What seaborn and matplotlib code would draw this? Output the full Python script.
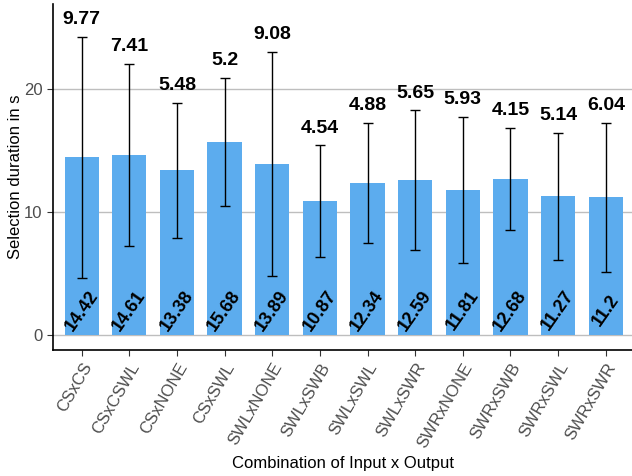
import numpy as np
import pandas as pd
import seaborn as sns
import matplotlib.pyplot as plt

combos = ["CSxCS", "CSxCSWL", "CSxNONE", "CSxSWL", "SWLxNONE", "SWLxSWB",
          "SWLxSWL", "SWLxSWR", "SWRxNONE", "SWRxSWB", "SWRxSWL", "SWRxSWR"]
means = [14.42, 14.61, 13.38, 15.68, 13.89, 10.87, 12.34, 12.59, 11.81, 12.68, 11.27, 11.2]
sds = [9.77, 7.41, 5.48, 5.2, 9.08, 4.54, 4.88, 5.65, 5.93, 4.15, 5.14, 6.04]

df = pd.DataFrame({"combo": combos, "mean": means, "sd": sds})

sns.set_style("white")
plt.rcParams['font.family'] = ['Liberation Sans', 'DejaVu Sans']

fig = plt.figure(figsize=(6.32, 4.76), dpi=100)
ax = fig.add_axes([0.084, 0.265, 0.916, 0.727])

sns.barplot(data=df, x="combo", y="mean", color="#5CACEE", saturation=1,
            width=0.72, errorbar=None, linewidth=0, ax=ax, zorder=2)
ax.errorbar(np.arange(len(df)), df["mean"], yerr=df["sd"], fmt="none",
            ecolor="black", elinewidth=1, capsize=3.6, capthick=1, zorder=3)

for i, (m, s) in enumerate(zip(df["mean"], df["sd"])):
    ax.text(i, m + s + 1.4, f"{s:g}", ha="center", va="center",
            fontsize=14, fontweight="bold", color="black")
    ax.text(i, 2.0, f"{m:g}", ha="center", va="center", rotation=55,
            rotation_mode="anchor", fontsize=13, fontweight="bold", color="black", zorder=4)

ax.set_ylim(-1.2, 26.9)
ax.set_xlim(-0.6, 11.55)
ax.set_yticks([0, 10, 20])
ax.yaxis.grid(True, color="#BEBEBE", linewidth=1, zorder=0)
ax.set_axisbelow(True)

for side in ["top", "right"]:
    ax.spines[side].set_visible(False)
for side in ["left", "bottom"]:
    ax.spines[side].set_color("black")
    ax.spines[side].set_linewidth(1.2)

ax.tick_params(axis="both", which="major", length=4, color="#333333",
               labelsize=12, labelcolor="#4D4D4D", left=True, bottom=True)
plt.setp(ax.get_xticklabels(), rotation=60, ha="right", rotation_mode="anchor")

ax.set_xlabel("Combination of Input x Output", fontsize=12, color="black")
ax.set_ylabel("Selection duration in s", fontsize=12, color="black", labelpad=1)

fig.savefig("out.png", dpi=100)
